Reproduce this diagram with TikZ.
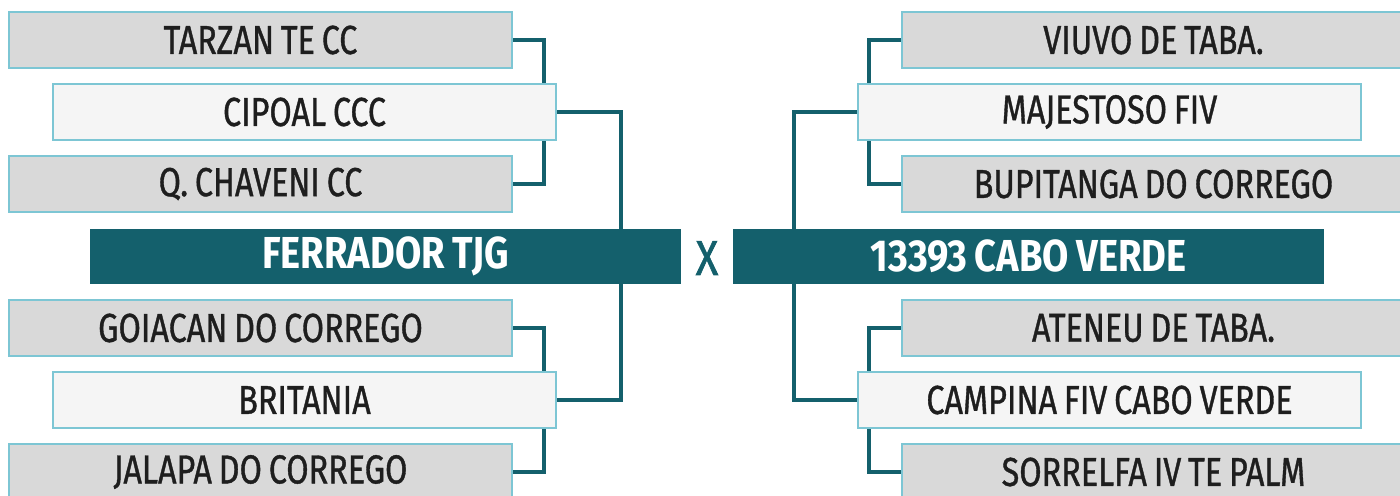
\documentclass[tikz,border=0pt]{standalone}
\usepackage{fontspec}
\setmainfont{Fira Sans}
\newfontfamily\teamfont{Fira Sans}[FakeStretch=0.8, FakeBold=0.9, WordSpace=0.8]
\newfontfamily\finalfont{Fira Sans}[FakeStretch=0.85, WordSpace=0.8]
\newfontfamily\versusfont{Fira Sans}[FakeStretch=0.85, FakeBold=1.2]
\usepackage{tikz}
\usetikzlibrary{backgrounds}
\definecolor{barteal}{RGB}{20,96,108}
\definecolor{edgeblue}{RGB}{125,198,212}
\definecolor{boxgray}{RGB}{217,217,217}
\definecolor{boxlight}{RGB}{245,245,245}
\definecolor{inkgray}{RGB}{30,30,30}

\begin{document}
\begin{tikzpicture}[
  x=0.02cm, y=-0.02cm,
  team/.style={draw=edgeblue, line width=1.1pt, fill=boxgray, minimum width=10.06cm, minimum height=1.12cm, inner sep=0pt, text=inkgray, font=\teamfont\fontsize{23}{27}\selectfont},
  seed/.style={team, fill=boxlight},
  final/.style={fill=barteal, minimum width=11.82cm, minimum height=1.1cm, inner sep=0pt, text=white, font=\finalfont\fontsize{25.5}{30}\selectfont\bfseries},
  link/.style={draw=barteal, line width=2.3pt}
]
\useasboundingbox (0,0) rectangle (1400,495);

%--- Left side ---
\node[team] (tarzan) at (260.5, 40) {TARZAN TE CC};
\node[seed] (cipoal) at (304.5, 112) {CIPOAL CCC};
\node[team] (chaveni) at (260.5, 184) {Q. CHAVENI CC};
\node[final] (ferrador) at (385.5, 256.5) {FERRADOR TJG};
\node[team] (goiacan) at (260.5, 328) {GOIACAN DO CORREGO};
\node[seed] (britania) at (304.5, 400) {BRITANIA};
\node[team] (jalapa) at (260.5, 472) {JALAPA DO CORREGO};

%--- Right side ---
\node[team] (viuvo) at (1153.5, 40) {VIUVO DE TABA.};
\node[seed] (majestoso) at (1109.5, 112) {MAJESTOSO FIV};
\node[team] (bupitanga) at (1153.5, 184) {BUPITANGA DO CORREGO};
\node[final] (cabo) at (1028.5, 256.5) {13393 CABO VERDE};
\node[team] (ateneu) at (1153.5, 328) {ATENEU DE TABA.};
\node[seed] (campina) at (1109.5, 400) {CAMPINA FIV CABO VERDE};
\node[team] (sorrelfa) at (1153.5, 472) {SORRELFA IV TE PALM};

\node[text=barteal, font=\versusfont\fontsize{28}{32}\selectfont] (versus) at (707, 258) {X};

%--- Connectors ---
\begin{scope}[on background layer]
  \draw[link] (tarzan.east) -- ++(31,0) |- (chaveni.east);
  \draw[link] (goiacan.east) -- ++(31,0) |- (jalapa.east);
  \draw[link] (cipoal.east) -- ++(64,0) coordinate (lt) -- (lt |- ferrador.north);
  \draw[link] (britania.east) -- ++(64,0) coordinate (lb) -- (lb |- ferrador.south);
  \draw[link] (viuvo.west) -- ++(-32,0) |- (bupitanga.west);
  \draw[link] (ateneu.west) -- ++(-32,0) |- (sorrelfa.west);
  \draw[link] (majestoso.west) -- ++(-63,0) coordinate (rt) -- (rt |- cabo.north);
  \draw[link] (campina.west) -- ++(-63,0) coordinate (rb) -- (rb |- cabo.south);
\end{scope}
\end{tikzpicture}
\end{document}
